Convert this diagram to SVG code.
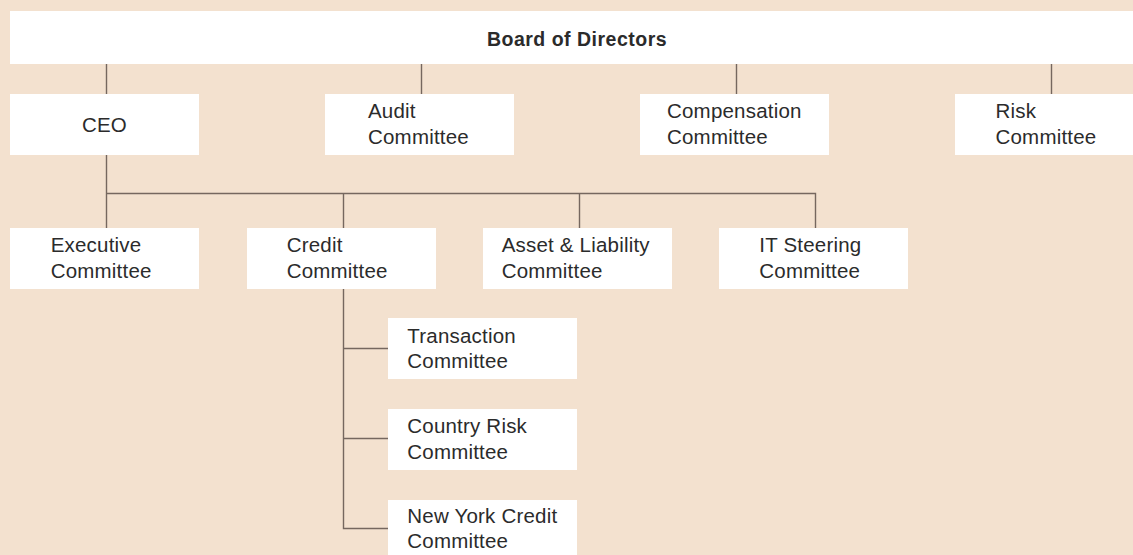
<svg xmlns="http://www.w3.org/2000/svg" width="1133" height="555" viewBox="0 0 1133 555">
  <style>
    .box { fill: #ffffff; }
    .lbl { font-family: "Liberation Sans", Arial, sans-serif; font-size: 20.5px; letter-spacing: 0.2px; fill: #2b2b2b; }
    .title { font-weight: bold; font-size: 19.5px; letter-spacing: 0.5px; }
    .conn { stroke: #75675f; stroke-width: 1.4; fill: none; }
  </style>
  <rect width="1133" height="555" fill="#f3e1cf"/>

  <!-- connectors -->
  <g id="connectors" class="conn">
    <path d="M106.5 64V94M421.5 64V94M736.5 64V94M1051.5 64V94"/>
    <path d="M106.5 155V228M106.5 193.5H815.5V228M343.5 193.5V228M579.5 193.5V228"/>
    <path d="M343.5 289V528.5H388M343.5 348.5H388M343.5 438.5H388"/>
  </g>

  <g id="board">
    <rect class="box" x="10" y="11" width="1123" height="53"/>
    <text class="lbl title" x="577" y="46" text-anchor="middle">Board of Directors</text>
  </g>

  <g id="ceo">
    <rect class="box" x="10" y="94" width="189" height="61"/>
    <text class="lbl" x="104.5" y="132" text-anchor="middle">CEO</text>
  </g>
  <g id="audit">
    <rect class="box" x="325" y="94" width="189" height="61"/>
    <text class="lbl" x="368" y="118">Audit</text>
    <text class="lbl" x="368" y="144">Committee</text>
  </g>
  <g id="compensation">
    <rect class="box" x="640" y="94" width="189" height="61"/>
    <text class="lbl" x="667" y="118">Compensation</text>
    <text class="lbl" x="667" y="144">Committee</text>
  </g>
  <g id="risk">
    <rect class="box" x="955" y="94" width="178" height="61"/>
    <text class="lbl" x="995.5" y="118">Risk</text>
    <text class="lbl" x="995.5" y="144">Committee</text>
  </g>

  <g id="executive">
    <rect class="box" x="10" y="228" width="189" height="61"/>
    <text class="lbl" x="50.7" y="251.7">Executive</text>
    <text class="lbl" x="50.7" y="277.7">Committee</text>
  </g>
  <g id="credit">
    <rect class="box" x="247" y="228" width="189" height="61"/>
    <text class="lbl" x="286.7" y="251.7">Credit</text>
    <text class="lbl" x="286.7" y="277.7">Committee</text>
  </g>
  <g id="alco">
    <rect class="box" x="483" y="228" width="189" height="61"/>
    <text class="lbl" x="501.7" y="251.7">Asset &amp; Liability</text>
    <text class="lbl" x="501.7" y="277.7">Committee</text>
  </g>
  <g id="it-steering">
    <rect class="box" x="719" y="228" width="189" height="61"/>
    <text class="lbl" x="759.3" y="251.7">IT Steering</text>
    <text class="lbl" x="759.3" y="277.7">Committee</text>
  </g>

  <g id="transaction">
    <rect class="box" x="388" y="318" width="189" height="61"/>
    <text class="lbl" x="407.3" y="342.7">Transaction</text>
    <text class="lbl" x="407.3" y="368.3">Committee</text>
  </g>
  <g id="country-risk">
    <rect class="box" x="388" y="409" width="189" height="61"/>
    <text class="lbl" x="407.3" y="433.3">Country Risk</text>
    <text class="lbl" x="407.3" y="459">Committee</text>
  </g>
  <g id="new-york-credit">
    <rect class="box" x="388" y="500" width="189" height="55"/>
    <text class="lbl" x="407.3" y="523.3">New York Credit</text>
    <text class="lbl" x="407.3" y="548.3">Committee</text>
  </g>
</svg>
